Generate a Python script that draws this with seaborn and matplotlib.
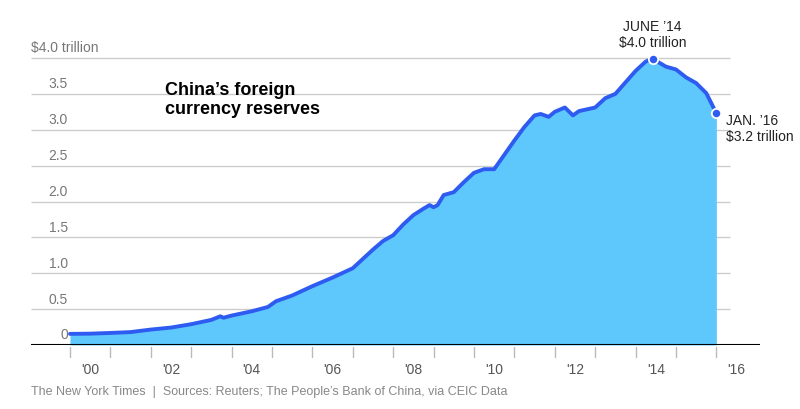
import matplotlib
matplotlib.use('Agg')
import matplotlib.pyplot as plt
import seaborn as sns
import pandas as pd

years = [2000.0, 2000.5, 2001.0, 2001.5, 2002.0, 2002.5, 2003.0, 2003.25, 2003.5, 2003.72, 2003.8,
         2004.0, 2004.5, 2004.9, 2005.1, 2005.5, 2006.0, 2006.5, 2007.0, 2007.25, 2007.5, 2007.75,
         2008.0, 2008.25, 2008.5, 2008.75, 2008.9, 2009.0, 2009.1, 2009.25, 2009.5, 2009.75, 2010.0,
         2010.25, 2010.5, 2010.75, 2011.0, 2011.25, 2011.5, 2011.65, 2011.85, 2012.0, 2012.25,
         2012.45, 2012.6, 2013.0, 2013.25, 2013.5, 2013.75, 2014.0, 2014.25, 2014.42, 2014.6,
         2014.75, 2015.0, 2015.25, 2015.5, 2015.75, 2016.0]
reserves = [0.155, 0.158, 0.168, 0.18, 0.215, 0.243, 0.29, 0.32, 0.35, 0.40, 0.38,
            0.41, 0.47, 0.53, 0.61, 0.69, 0.82, 0.94, 1.07, 1.2, 1.33, 1.45,
            1.53, 1.68, 1.81, 1.9, 1.95, 1.92, 1.95, 2.09, 2.13, 2.27, 2.40,
            2.45, 2.45, 2.65, 2.85, 3.04, 3.2, 3.22, 3.18, 3.25, 3.31,
            3.2, 3.26, 3.31, 3.44, 3.50, 3.66, 3.82, 3.95, 3.99, 3.93,
            3.88, 3.84, 3.73, 3.65, 3.51, 3.23]
y_ticks = [0, 0.5, 1.0, 1.5, 2.0, 2.5, 3.0, 3.5, 4.0]
y_labels = ['0', '0.5', '1.0', '1.5', '2.0', '2.5', '3.0', '3.5', '$4.0 trillion']
x_labels = ["'00", "'02", "'04", "'06", "'08", "'10", "'12", "'14", "'16"]

df = pd.DataFrame({'year': years, 'reserves': reserves})

sns.set_style('white')
plt.rcParams['font.family'] = ['Liberation Sans', 'DejaVu Sans']

fig = plt.figure(figsize=(8, 4.1), dpi=100)
# pixel mapping: left 31px, right 760px, baseline y=346, 4.0 at y=59
ax = fig.add_axes([31/800, (410-346)/410, (760-31)/800, (346-40)/410])
x0, x1 = 1999.035, 2017.08
ymax = 4.0 * (346 - 40) / (346 - 59)
ax.set_xlim(x0, x1)
ax.set_ylim(0, ymax)
for s in ax.spines.values():
    s.set_visible(False)
ax.set_xticks([]); ax.set_yticks([])

grid_end = 2016.34
for yv, lab in zip(y_ticks, y_labels):
    if yv > 0:
        ax.hlines(yv, x0, grid_end, color='#cccccc', lw=1, zorder=1)
    money = lab.startswith('$')
    ax.text(1999.04 if money else 1999.95, yv + 0.05, lab,
            ha='left' if money else 'right', va='bottom', fontsize=10, color='#777777')

ax.fill_between(df['year'], df['reserves'], color='#5ec8fc', zorder=2, lw=0)
sns.lineplot(data=df, x='year', y='reserves', ax=ax, color='#2f5cf0', lw=2.8, zorder=3)
ax.set_xlabel(''); ax.set_ylabel('')
ax.axhline(0, color='black', lw=1.5, zorder=4)

# tick marks at year boundaries, labels mid-year on even years
for yr in range(2000, 2017):
    ax.plot([yr, yr], [-0.03, -0.17], color='#bbbbbb', lw=1, clip_on=False)
for i, lab in enumerate(x_labels):
    ax.text(2000 + 2*i + 0.5, -0.24, lab, ha='center', va='top',
            fontsize=10, color='#555555', clip_on=False)

# highlighted points
for yr, val in [(2014.42, 3.99), (2016.0, 3.23)]:
    ax.scatter([yr], [val], s=45, color='#2f5cf0', edgecolor='white', lw=1.3, zorder=5)
ax.text(2014.42, 4.12, "JUNE \u201914\n$4.0 trillion", ha='center', va='bottom', fontsize=10,
        color='#222222', linespacing=1.2)
ax.text(2016.25, 3.23, "JAN. \u201916\n$3.2 trillion", ha='left', va='top', fontsize=10,
        color='#222222', linespacing=1.2)

fig.text(165/800, 1 - 82/410, "China\u2019s foreign\ncurrency reserves", ha='left', va='top',
         fontsize=13, fontweight='bold', color='black', linespacing=1.15)
fig.text(31/800, 1 - 392/410, "The New York Times  |  Sources: Reuters; The People\u2019s Bank of China, via CEIC Data",
         ha='left', va='center', fontsize=9, color='#888888')

fig.savefig('out.png', dpi=100)
